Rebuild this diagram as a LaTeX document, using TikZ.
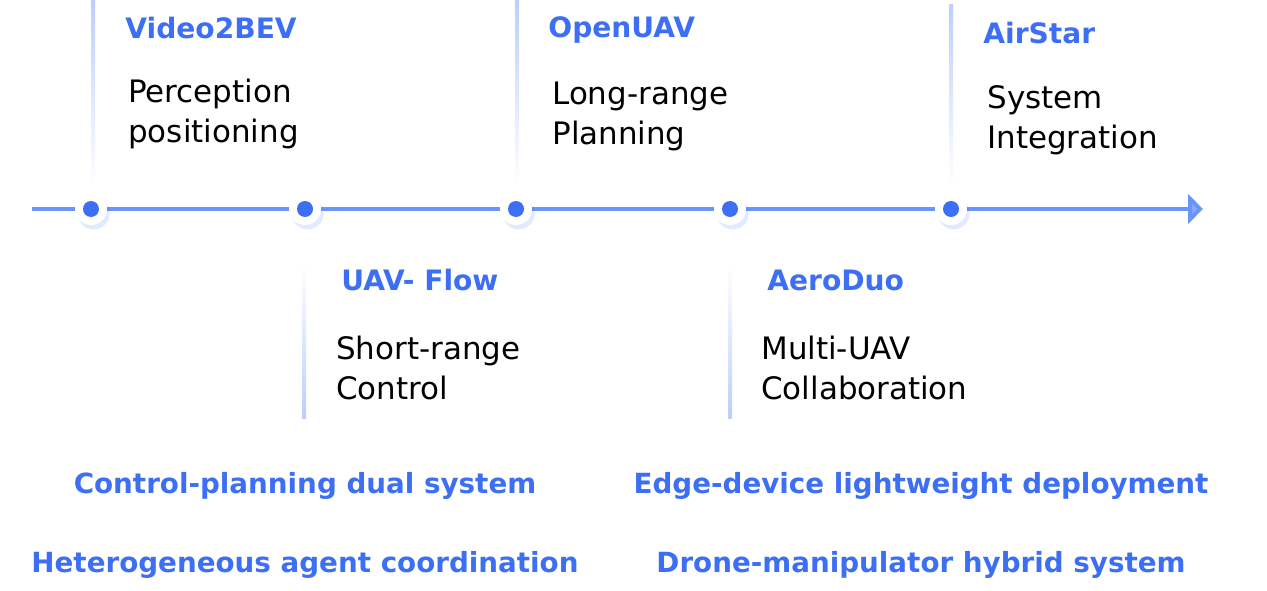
\documentclass[tikz,border=0pt]{standalone}
\usepackage{fontspec}
\setmainfont{DejaVu Sans}
\usetikzlibrary{positioning,arrows.meta,shadows}
\definecolor{tlblue}{HTML}{3D6FF5}
\definecolor{tlline}{HTML}{6A95F8}
\definecolor{tltip}{HTML}{86A8F8}
\definecolor{tlvert}{HTML}{BCCEFA}

\begin{document}
\begin{tikzpicture}[x=0.02cm,y=-0.02cm,
    dot/.style={circle,fill=tlblue,minimum size=16*0.02cm,inner sep=0pt},
    halo/.style={circle,fill=white,minimum size=32*0.02cm,inner sep=0pt,
      drop shadow={shadow xshift=1.5pt,shadow yshift=-2.5pt,fill=tlblue,opacity=0.15}},
    ttl/.style={anchor=west,inner sep=0pt,font=\bfseries\fontsize{16}{19}\selectfont,text=tlblue},
    desc/.style={anchor=west,inner sep=0pt,align=left,font=\fontsize{17.6}{22.8}\selectfont},
    goal/.style={inner sep=0pt,font=\bfseries\fontsize{15.8}{19}\selectfont,text=tlblue}]
  \useasboundingbox (0,0) rectangle (1267,591);
  % vertical guide lines
  \foreach \x/\a/\b in {93/0/185,517/0/185,951/5/185}
    \shade[top color=tlvert,bottom color=white] (\x-2,\a) rectangle (\x+2,\b);
  \foreach \x in {304,730}
    \shade[top color=white,bottom color=tlvert] (\x-2,265) rectangle (\x+2,418);
  % timeline
  \coordinate (s) at (32,209);
  \coordinate (e) at (1203,209);
  \draw[line width=2.3pt,tlline,-{Triangle[length=8.5pt,width=16.5pt,fill=tltip]}] (s)--(e);
  \foreach \n/\x in {d1/91,d2/305,d3/516,d4/730,d5/951}{
    \node[halo] at (\x,209) {};
    \node[dot] (\n) at (\x,209) {};
  }
  % milestones
  \node[ttl] (v2b) at (125,28) {Video2BEV};
  \node[desc] (v2bd) at (128,114) {Perception\\positioning};
  \node[ttl] (ouav) at (548,30) {OpenUAV};
  \node[desc] (ouavd) at (552,116) {Long-range\\Planning};
  \node[ttl] (astar) at (983,33) {AirStar};
  \node[desc] (astard) at (987,120) {System\\Integration};
  \node[ttl] (uflow) at (341,280) {UAV- Flow};
  \node[desc] (uflowd) at (336,368) {Short-range\\Control};
  \node[ttl] (aduo) at (767,280) {AeroDuo};
  \node[desc] (aduod) at (761,368) {Multi-UAV\\Collaboration};
  % outlook
  \node[goal] (g1) at (305,486) {Control-planning dual system};
  \node[goal] (g2) at (305,565) {Heterogeneous agent coordination};
  \node[goal] (g3) at (921,486) {Edge-device lightweight deployment};
  \node[goal] (g4) at (921,565) {Drone-manipulator hybrid system};
\end{tikzpicture}
\end{document}
